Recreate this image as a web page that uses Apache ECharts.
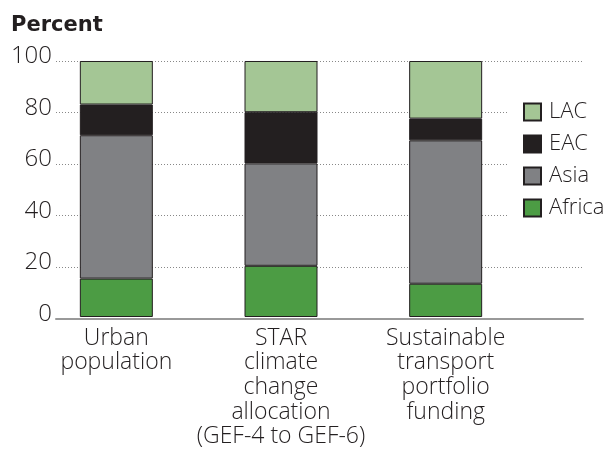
<!DOCTYPE html>
<html>
<head>
<meta charset="utf-8">
<script src="https://cdn.jsdelivr.net/npm/echarts@6/dist/echarts.min.js"></script>
<style>
html,body{margin:0;padding:0;background:#fff;}
#chart{width:613px;height:449px;}
</style>
</head>
<body>
<div id="chart"></div>
<script>
const categories = ['Urban\npopulation', 'STAR\nclimate\nchange\nallocation\n(GEF-4 to GEF-6)', 'Sustainable\ntransport\nportfolio\nfunding'];
const africa = [15, 20, 13];
const asia = [56, 40, 56];
const eac = [12, 20, 8.5];
const lac = [17, 20, 22.5];
const yTicks = [0, 20, 40, 60, 80, 100];
const legendOrder = ['LAC', 'EAC', 'Asia', 'Africa'];

const FONT = 'Open Sans';
const TXT = '#231f20';
const chart = echarts.init(document.getElementById('chart'), null, {renderer: 'canvas'});
const border = {borderColor: '#231f20', borderWidth: 1};
function bar(name, data, color) {
  return {
    name: name, type: 'bar', stack: 'total', data: data,
    xAxisIndex: 1, yAxisIndex: 1, barWidth: 73,
    itemStyle: Object.assign({color: color}, border)
  };
}
chart.setOption({
  animation: false,
  title: {
    text: 'Percent', left: 6, top: 10,
    textStyle: {fontFamily: 'DejaVu Sans', fontWeight: 'bold', fontSize: 21, color: '#231f20'}
  },
  legend: {
    data: legendOrder, orient: 'vertical', left: 507, top: 95,
    padding: [6, 12, 6, 16], backgroundColor: '#fff',
    itemWidth: 17, itemHeight: 17, itemGap: 10,
    icon: 'rect',
    textStyle: {fontFamily: FONT, fontWeight: 300, fontSize: 22, color: TXT, padding: [0, 0, 0, 3]}
  },
  grid: [
    {left: 56, right: 30, top: 61, bottom: 130.5},
    {left: 34, width: 494, top: 61, bottom: 130.5}
  ],
  xAxis: [
    {type: 'category', gridIndex: 0, data: [''],
     axisLine: {lineStyle: {color: '#999', width: 2}}, axisTick: {show: false}, axisLabel: {show: false}},
    {type: 'category', gridIndex: 1, data: categories,
     axisLine: {show: false}, axisTick: {show: false},
     axisLabel: {interval: 0, margin: 9, fontFamily: FONT, fontWeight: 300, fontSize: 23, lineHeight: 24.6, color: TXT}}
  ],
  yAxis: [
    {type: 'value', gridIndex: 0, min: 0, max: 100, interval: 20,
     axisLine: {show: false}, axisTick: {show: false},
     axisLabel: {margin: 4, fontFamily: FONT, fontWeight: 300, fontSize: 24, color: TXT,
       verticalAlign: 'bottom', lineHeight: 9,
       formatter: v => yTicks.indexOf(v) >= 0 ? String(v) : ''},
     splitLine: {lineStyle: {type: [1, 2], color: '#888', width: 1}}},
    {type: 'value', gridIndex: 1, min: 0, max: 100, interval: 20, show: false, splitLine: {show: false}}
  ],
  series: [
    bar('Africa', africa, '#4c9c44'),
    bar('Asia', asia, '#808184'),
    bar('EAC', eac, '#231f20'),
    bar('LAC', lac, '#a4c695')
  ]
});
</script>
</body>
</html>
